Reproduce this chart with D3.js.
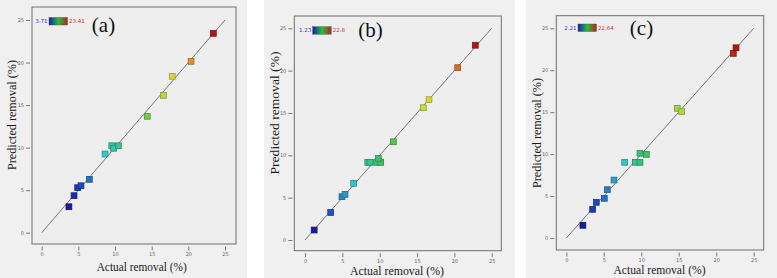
<!DOCTYPE html>
<html>
<head>
<meta charset="utf-8">
<script src="https://cdn.jsdelivr.net/npm/d3@7"></script>
<style>
  body { margin: 0; background: #fff; }
  svg { display: block; }
  .serif { font-family: 'Liberation Serif', 'Times New Roman', serif; }
  .small { font-family: 'DejaVu Sans', sans-serif; }
</style>
</head>
<body>
<svg id="chart" width="777" height="278"></svg>
<script>
(function () {

  // tick labels shared by every panel
  var ticks = [0, 5, 10, 15, 20, 25]
  var panelNames = ['(a)', '(b)', '(c)']

  // panel (a): actual vs predicted removal (%)
  var actualA = [3.71, 4.41, 4.9, 5.36, 6.5, 8.64, 9.55, 9.8, 10.45, 14.4, 16.6, 17.8, 20.37, 23.41]
  var predictedA = [3.05, 4.35, 5.29, 5.52, 6.27, 9.25, 10.22, 9.92, 10.22, 13.68, 16.14, 18.38, 20.14, 23.43]

  // panel (b)
  var actualB = [1.23, 3.44, 4.95, 5.36, 6.52, 8.4, 8.7, 9.6, 10.14, 9.82, 11.83, 15.85, 16.6, 20.45, 22.8]
  var predictedB = [1.18, 3.25, 5.11, 5.39, 6.69, 9.17, 9.17, 9.17, 9.17, 9.64, 11.6, 15.62, 16.57, 20.35, 23.0]

  // panel (c)
  var actualC = [2.21, 3.52, 4.0, 5.07, 5.47, 6.36, 7.79, 9.21, 9.83, 9.83, 10.67, 14.81, 15.39, 22.28, 22.64]
  var predictedC = [1.51, 3.42, 4.25, 4.73, 5.76, 6.91, 9.02, 9.02, 9.02, 10.1, 9.97, 15.46, 15.06, 22.01, 22.68]

  var panels = [
    { name: panelNames[0], actual: actualA, predicted: predictedA,
      bg: [0, 247], frame: { l: 32, r: 236, t: 7, b: 244 },
      x0: 41.7, x25: 225, y0: 232.7, y25: 20,
      xLab: [141.7, 271, 90], yLab: [16, 115, 110],
      tag: [103.5, 32], legend: [49, 17.5] },
    { name: panelNames[1], actual: actualB, predicted: predictedB,
      bg: [264, 515], frame: { l: 294.3, r: 501.3, t: 16, b: 250.7 },
      x0: 305, x25: 491.7, y0: 240, y25: 28.3,
      xLab: [397, 275, 94], yLab: [279, 113, 123],
      tag: [370.5, 37], legend: [312.7, 26.7] },
    { name: panelNames[2], actual: actualC, predicted: predictedC,
      bg: [526, 777], frame: { l: 556.3, r: 763.7, t: 15.7, b: 250 },
      x0: 566.3, x25: 753.7, y0: 238, y25: 28.3,
      xLab: [659.5, 274, 92], yLab: [541, 133, 110],
      tag: [641.5, 35], legend: [578, 24] }
  ]

  var svg = d3.select('#chart')

  // gradient used by the little colour legends
  var grad = svg.append('defs').append('linearGradient').attr('id', 'ramp')
  grad.selectAll('stop')
    .data([['0%', '#1a1ab4'], ['50%', '#22c23a'], ['100%', '#c01e1e']])
    .enter().append('stop')
    .attr('offset', d => d[0])
    .attr('stop-color', d => d[1])

  var rampColours = ['#1a1a9a', '#2050c0', '#30c8c8', '#40c050', '#d0e040', '#e09030', '#b01818']
  var rampStops = [0, 0.1, 0.25, 0.45, 0.7, 0.85, 1]

  panels.forEach(function (p) {
    var g = svg.append('g')

    g.append('rect')
      .attr('x', p.bg[0]).attr('y', 0)
      .attr('width', p.bg[1] - p.bg[0]).attr('height', 278)
      .attr('fill', '#f0f0f0')

    var x = d3.scaleLinear().domain([0, 25]).range([p.x0, p.x25])
    var y = d3.scaleLinear().domain([0, 25]).range([p.y0, p.y25])

    var lo = d3.min(p.actual), hi = d3.max(p.actual)
    var colour = d3.scaleLinear()
      .domain(rampStops.map(s => lo + s * (hi - lo)))
      .range(rampColours)

    g.append('rect')
      .attr('x', p.frame.l).attr('y', p.frame.t)
      .attr('width', p.frame.r - p.frame.l).attr('height', p.frame.b - p.frame.t)
      .attr('fill', '#eeeeee')
      .attr('stroke', '#6e6e6e')
      .attr('stroke-width', 1)

    var xAxis = g.append('g')
      .attr('transform', 'translate(0,' + (p.frame.b + 2.5) + ')')
      .call(d3.axisBottom(x).tickValues(ticks).tickSize(4).tickPadding(2))
    var yAxis = g.append('g')
      .attr('transform', 'translate(' + (p.frame.l - 2) + ',0)')
      .call(d3.axisLeft(y).tickValues(ticks).tickSize(4).tickPadding(2))

    ;[xAxis, yAxis].forEach(function (a) {
      a.select('.domain').remove()
      a.selectAll('line').attr('stroke', '#777')
      a.selectAll('text')
        .attr('class', 'small')
        .attr('font-family', null)
        .attr('fill', '#666')
        .style('font-size', '5px')
    })

    // 1:1 reference line
    g.append('line')
      .attr('x1', x(0)).attr('y1', y(0))
      .attr('x2', x(25)).attr('y2', y(25))
      .attr('stroke', '#555')
      .attr('stroke-width', 0.8)

    var pts = p.actual.map((a, i) => ({ a: a, p: p.predicted[i] }))
    g.selectAll('rect.pt')
      .data(pts)
      .enter().append('rect')
      .attr('class', 'pt')
      .attr('x', d => x(d.a) - 2.9)
      .attr('y', d => y(d.p) - 2.9)
      .attr('width', 5.8).attr('height', 5.8)
      .attr('fill', d => colour(d.a))
      .attr('stroke', d => d3.color(colour(d.a)).darker(0.9))
      .attr('stroke-width', 0.8)

    // colour legend
    g.append('rect')
      .attr('x', p.legend[0]).attr('y', p.legend[1])
      .attr('width', 18.5).attr('height', 7.5)
      .attr('fill', 'url(#ramp)')
      .attr('stroke', '#444').attr('stroke-width', 0.4)
    g.append('text')
      .attr('class', 'small')
      .attr('x', p.legend[0] - 1.5).attr('y', p.legend[1] + 5.5)
      .attr('text-anchor', 'end')
      .attr('fill', '#3434c8')
      .style('font-size', '5.5px')
      .text(d3.format('.2~f')(lo))
    g.append('text')
      .attr('class', 'small')
      .attr('x', p.legend[0] + 20).attr('y', p.legend[1] + 5.5)
      .attr('fill', '#d03030')
      .style('font-size', '5.5px')
      .text(d3.format('.2~f')(hi))

    g.append('text')
      .attr('class', 'serif')
      .attr('x', p.tag[0]).attr('y', p.tag[1])
      .attr('text-anchor', 'middle')
      .style('font-size', '21px')
      .attr('fill', '#111')
      .text(p.name)

    g.append('text')
      .attr('class', 'serif')
      .attr('x', p.xLab[0]).attr('y', p.xLab[1])
      .attr('text-anchor', 'middle')
      .attr('textLength', p.xLab[2]).attr('lengthAdjust', 'spacingAndGlyphs')
      .style('font-size', '13px')
      .attr('fill', '#1a1a1a')
      .text('Actual removal (%)')

    g.append('text')
      .attr('class', 'serif')
      .attr('transform', 'translate(' + p.yLab[0] + ',' + p.yLab[1] + ') rotate(-90)')
      .attr('text-anchor', 'middle')
      .attr('textLength', p.yLab[2]).attr('lengthAdjust', 'spacingAndGlyphs')
      .style('font-size', '13px')
      .attr('fill', '#1a1a1a')
      .text('Predicted removal (%)')
  })

})()
</script>
</body>
</html>
